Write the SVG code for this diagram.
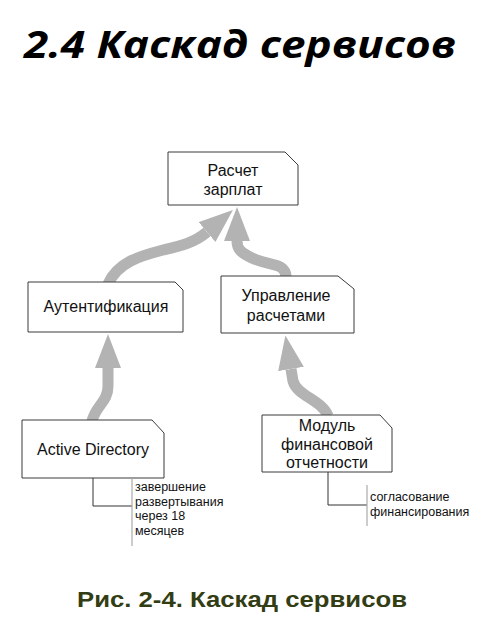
<svg xmlns="http://www.w3.org/2000/svg" width="481" height="642" viewBox="0 0 481 642">
<style>
.bg{fill:#ffffff}
.box{fill:#ffffff;stroke:#3a3a3a;stroke-width:1}
.lbl{font-family:"Liberation Sans",Arial,sans-serif;font-size:16px;fill:#111;text-anchor:middle}
.note{font-family:"Liberation Sans",Arial,sans-serif;font-size:12.5px;fill:#111}
.arr{fill:none;stroke:#b3b3b3;stroke-width:11}
.brk{fill:none;stroke:#333;stroke-width:1}
.gl{fill:none;stroke:#aaaaaa;stroke-width:1.2}
.title{font-family:"Open Sans","DejaVu Sans",sans-serif;font-weight:bold;font-style:italic;font-size:38px;fill:#000;text-anchor:middle}
.cap{font-family:"Liberation Sans",Arial,sans-serif;font-weight:bold;font-size:22px;fill:#333d14;text-anchor:middle}
</style>
<defs>
<marker id="ah" viewBox="0 0 34 26" refX="0" refY="13" markerWidth="34" markerHeight="26" markerUnits="userSpaceOnUse" orient="auto">
<path d="M0,0 L34,13 L0,26 Z" fill="#b3b3b3"/>
</marker>
</defs>
<rect class="bg" x="0" y="0" width="481" height="642"/>
<text class="title" x="240" y="58" textLength="432" lengthAdjust="spacingAndGlyphs">2.4 Каскад сервисов</text>

<g id="connectors">
<path class="arr" d="M108,284 C118,262 140,256 163,250 C180,246 194,243 207,232" marker-end="url(#ah)"/>
<path class="arr" d="M286,277 C286,262 268,266 252,258 C242,253 237,250 237,241" marker-end="url(#ah)"/>
<path class="arr" d="M92,421 C96,405 108,402 108,386 L108,368" marker-end="url(#ah)"/>
<path class="arr" d="M328,416 C322,400 297,396 293,381 L291,369" marker-end="url(#ah)"/>
</g>

<g id="n-raschet">
<path class="box" d="M168,152 H285 L298,165 V205 H168 Z"/>
<text class="lbl" x="233" y="176">Расчет</text>
<text class="lbl" x="233" y="195">зарплат</text>
</g>

<g id="n-auth">
<path class="box" d="M28,282 H175 L183,290 V332 H28 Z"/>
<text class="lbl" x="106" y="312">Аутентификация</text>
</g>

<g id="n-upr">
<path class="box" d="M221,276 H338 L354,289 V333 H221 Z"/>
<text class="lbl" x="286" y="301">Управление</text>
<text class="lbl" x="286" y="321">расчетами</text>
</g>

<g id="n-ad">
<path class="box" d="M22,420 H152 L164,433 V478 H22 Z"/>
<text class="lbl" x="93" y="455">Active Directory</text>
</g>

<g id="n-modul">
<path class="box" d="M262,415 H380 L392,428 V472 H262 Z"/>
<text class="lbl" x="327" y="431">Модуль</text>
<text class="lbl" x="327" y="449.5">финансовой</text>
<text class="lbl" x="327" y="468">отчетности</text>
</g>

<g id="note-ad">
<path class="brk" d="M93,478 V506 H132"/>
<path class="gl" d="M132,478 V546"/>
<text class="note" x="135" y="491">завершение</text>
<text class="note" x="135" y="505.5">развертывания</text>
<text class="note" x="135" y="520">через 18</text>
<text class="note" x="135" y="534.5">месяцев</text>
</g>

<g id="note-modul">
<path class="brk" d="M328,472 V505 H367"/>
<path class="gl" d="M367,485 V526"/>
<text class="note" x="370" y="501">согласование</text>
<text class="note" x="370" y="516">финансирования</text>
</g>

<text class="cap" x="242" y="607" textLength="330" lengthAdjust="spacingAndGlyphs">Рис. 2-4. Каскад сервисов</text>
</svg>
